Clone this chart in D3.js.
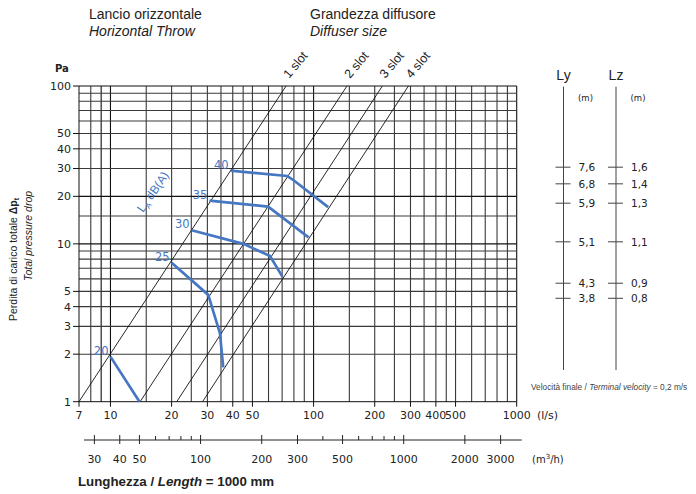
<!DOCTYPE html>
<html><head><meta charset="utf-8">
<script src="https://cdn.jsdelivr.net/npm/d3@7"></script>
<style>body{margin:0;background:#fff}svg{display:block}text{fill:#222}</style>
</head><body>
<script>
// ---- data ----
const xGridValues = [8,9,10,15,20,25,30,35,40,45,50,60,70,80,90,100,150,200,250,300,350,400,450,500,600,700,800,900,1000];
const yGridValues = [2,3,4,5,6,7,8,9,10,15,20,30,40,50,60,70,80,90,100];
const xTickLabels = [7,10,20,30,40,50,100,200,300,400,500,1000];
const yTickLabels = [1,2,3,4,5,10,20,30,40,50,100];
const m3hMajor = [30,40,50,100,200,300,500,1000,2000,3000];
const m3hMinor = [60,70,80,90,400,600,700,800,900];
const slotNames = ["1 slot","2 slot","3 slot","4 slot"];
const slotFlowAt1Pa = [7, 14, 21.2, 28.4];
const slotFlowAt100Pa = [73.2, 146, 218, 293];
const dbLevels = [20,25,30,35,40];
const dbFlow = [
  [10, 13.9],
  [20, 30.3, 34.6, 35.9],
  [25.1, 45.1, 61, 70.2],
  [30.7, 59.7, 94.5],
  [39, 74.3, 80, 118]
];
const dbPressure = [
  [1.93, 1],
  [7.6, 4.75, 2.71, 1.65],
  [12.2, 10, 8.38, 6.2],
  [18.8, 17.2, 11.0],
  [29.1, 26.9, 25.2, 17.1]
];
const lyLabels = ["7,6","6,8","5,9","5,1","4,3","3,8"];
const lzLabels = ["1,6","1,4","1,3","1,1","0,9","0,8"];
const throwAtPressure = [30.6, 24.0, 18.1, 10.3, 5.63, 4.52];

// ---- drawing ----
const W = 696, H = 494;
const svg = d3.select("body").append("svg").attr("width", W).attr("height", H);
const numFont = "DejaVu Sans";
const txtFont = "Liberation Sans, Arial, sans-serif";
const blue = "#4677c2";

const x = d3.scaleLog().domain([7,1000]).range([79, 516.7]);
const y = d3.scaleLog().domain([1,100]).range([401.7, 86]);

// grid
const g = svg.append("g");
g.selectAll("line.vg").data(xGridValues).join("line")
  .attr("x1", d => x(d)).attr("x2", d => x(d))
  .attr("y1", y(1)).attr("y2", y(100))
  .attr("stroke", d => (d === 9 || d === 10 || d === 100 || d === 1000) ? "#111" : "#3a3a3a").attr("stroke-width", 1.1);
g.selectAll("line.hg").data(yGridValues).join("line")
  .attr("x1", x(7)).attr("x2", x(1000))
  .attr("y1", d => y(d)).attr("y2", d => y(d))
  .attr("stroke", d => (d === 10 || d === 20 || d === 100) ? "#111" : "#3a3a3a").attr("stroke-width", 1.1);
// axes lines
g.append("line").attr("x1", x(7)).attr("x2", x(7)).attr("y1", y(1)).attr("y2", y(100)).attr("stroke", "#111");
g.append("line").attr("x1", x(7)).attr("x2", x(1000)).attr("y1", y(1)).attr("y2", y(1)).attr("stroke", "#111");

// x ticks & labels
g.selectAll("line.xt").data(xTickLabels).join("line")
  .attr("x1", d => x(d)).attr("x2", d => x(d)).attr("y1", y(1)).attr("y2", y(1) + 5)
  .attr("stroke", "#111");
svg.selectAll("text.xl").data(xTickLabels).join("text")
  .attr("x", d => x(d)).attr("y", 419).attr("text-anchor", "middle")
  .attr("font-family", numFont).attr("font-size", 11).text(d => d);
svg.append("text").attr("x", 537).attr("y", 419).attr("font-family", numFont).attr("font-size", 11).text("(l/s)");

// y ticks & labels
g.selectAll("line.yt").data(yTickLabels).join("line")
  .attr("x1", x(7) - 6).attr("x2", x(7)).attr("y1", d => y(d)).attr("y2", d => y(d))
  .attr("stroke", "#111");
svg.selectAll("text.yl").data(yTickLabels).join("text")
  .attr("x", 71).attr("y", d => y(d)).attr("dy", "0.36em").attr("text-anchor", "end")
  .attr("font-family", numFont).attr("font-size", 11).text(d => d);
svg.append("text").attr("x", 55).attr("y", 72).attr("font-family", numFont).attr("font-size", 10).attr("font-weight", "bold").text("Pa");

// m3/h axis
const m3 = v => x(v / 3.6);
const ay = 440;
svg.append("line").attr("x1", 84).attr("x2", 521.7).attr("y1", ay).attr("y2", ay).attr("stroke", "#222");
svg.selectAll("line.mj").data(m3hMajor).join("line")
  .attr("x1", d => m3(d)).attr("x2", d => m3(d)).attr("y1", ay - 5).attr("y2", ay + 4).attr("stroke", "#222");
svg.selectAll("line.mn").data(m3hMinor).join("line")
  .attr("x1", d => m3(d)).attr("x2", d => m3(d)).attr("y1", ay - 4).attr("y2", ay).attr("stroke", "#222");
svg.selectAll("text.ml").data(m3hMajor).join("text")
  .attr("x", d => m3(d)).attr("y", 463).attr("text-anchor", "middle")
  .attr("font-family", numFont).attr("font-size", 11).text(d => d);
const mt = svg.append("text").attr("x", 532).attr("y", 463).attr("font-family", numFont).attr("font-size", 10);
mt.append("tspan").text("(m");
mt.append("tspan").attr("dy", -4).attr("font-size", 7).text("3");
mt.append("tspan").attr("dy", 4).text("/h)");

// slot lines
const slots = slotNames.map((n, i) => ({name: n, a: slotFlowAt1Pa[i], b: slotFlowAt100Pa[i]}));
svg.selectAll("line.sl").data(slots).join("line")
  .attr("x1", d => x(d.a)).attr("y1", y(1)).attr("x2", d => x(d.b)).attr("y2", y(100))
  .attr("stroke", "#111").attr("stroke-width", 0.9);
svg.selectAll("text.sn").data(slots).join("text")
  .attr("transform", d => `translate(${x(d.b) + 3},${y(100) - 7}) rotate(-50)`)
  .attr("font-family", txtFont).attr("font-size", 12.5).text(d => d.name);

// dB curves
const line = d3.line().x(d => x(d[0])).y(d => y(d[1]));
dbLevels.forEach((lv, i) => {
  const pts = dbFlow[i].map((q, j) => [q, dbPressure[i][j]]);
  svg.append("path").attr("d", line(pts)).attr("fill", "none")
    .attr("stroke", blue).attr("stroke-width", 2.7).attr("stroke-linejoin", "round");
  svg.append("text").attr("x", x(pts[0][0]) - 2).attr("y", y(pts[0][1]) - 2)
    .attr("text-anchor", "end").attr("font-family", numFont).attr("font-size", 11.5)
    .style("fill", blue).text(lv);
});
const la = svg.append("text").attr("transform", "translate(143,213) rotate(-55)")
  .attr("font-family", txtFont).attr("font-size", 12).style("fill", blue);
la.append("tspan").text("L");
la.append("tspan").attr("dy", 3).attr("font-size", 8).text("A");
la.append("tspan").attr("dy", -3).text(" dB(A)");

// titles
svg.append("text").attr("x", 89).attr("y", 19).attr("font-family", txtFont).attr("font-size", 14).text("Lancio orizzontale");
svg.append("text").attr("x", 89).attr("y", 36).attr("font-family", txtFont).attr("font-size", 14).attr("font-style", "italic").text("Horizontal Throw");
svg.append("text").attr("x", 310).attr("y", 19).attr("font-family", txtFont).attr("font-size", 14).text("Grandezza diffusore");
svg.append("text").attr("x", 310).attr("y", 36).attr("font-family", txtFont).attr("font-size", 14).attr("font-style", "italic").text("Diffuser size");

// y axis title
const yt1 = svg.append("text").attr("transform", "translate(17,321) rotate(-90)")
  .attr("font-family", txtFont).attr("font-size", 10.5);
yt1.append("tspan").text("Perdita di carico totale ");
yt1.append("tspan").attr("font-weight", "bold").text("Δp");
yt1.append("tspan").attr("font-weight", "bold").attr("font-size", 7).attr("dy", 2).text("t");
svg.append("text").attr("transform", "translate(32,281) rotate(-90)")
  .attr("font-family", txtFont).attr("font-size", 10.5).attr("font-style", "italic").text("Total pressure drop");

// bottom title
const bt = svg.append("text").attr("x", 78).attr("y", 486).attr("font-family", txtFont).attr("font-size", 13.3).attr("font-weight", "bold");
bt.append("tspan").text("Lunghezza / ");
bt.append("tspan").attr("font-style", "italic").text("Length");
bt.append("tspan").text(" = 1000 mm");

// Ly / Lz scales
const scales = [{name: "Ly", cx: 563.5, labels: lyLabels}, {name: "Lz", cx: 616, labels: lzLabels}];
scales.forEach(s => {
  svg.append("line").attr("x1", s.cx).attr("x2", s.cx).attr("y1", 86.7).attr("y2", 370).attr("stroke", "#444");
  svg.append("text").attr("x", s.cx).attr("y", 80).attr("text-anchor", "middle")
    .attr("font-family", txtFont).attr("font-size", 14).text(s.name);
  svg.append("text").attr("x", s.cx + 22).attr("y", 101).attr("text-anchor", "middle")
    .attr("font-family", numFont).attr("font-size", 8.5).text("(m)");
  svg.selectAll(null).data(throwAtPressure).join("line")
    .attr("x1", s.cx - 8).attr("x2", s.cx + 7).attr("y1", d => y(d)).attr("y2", d => y(d)).attr("stroke", "#444");
  svg.selectAll(null).data(throwAtPressure).join("text")
    .attr("x", s.cx + 15).attr("y", d => y(d)).attr("dy", "0.36em")
    .attr("font-family", numFont).attr("font-size", 10.5).text((d, i) => s.labels[i]);
});
const vt = svg.append("text").attr("x", 531).attr("y", 390).attr("font-family", txtFont).attr("font-size", 8.3).style("fill", "#444");
vt.append("tspan").text("Velocità finale / ");
vt.append("tspan").attr("font-style", "italic").text("Terminal velocity");
vt.append("tspan").text(" = 0,2 m/s");
</script>
</body></html>
